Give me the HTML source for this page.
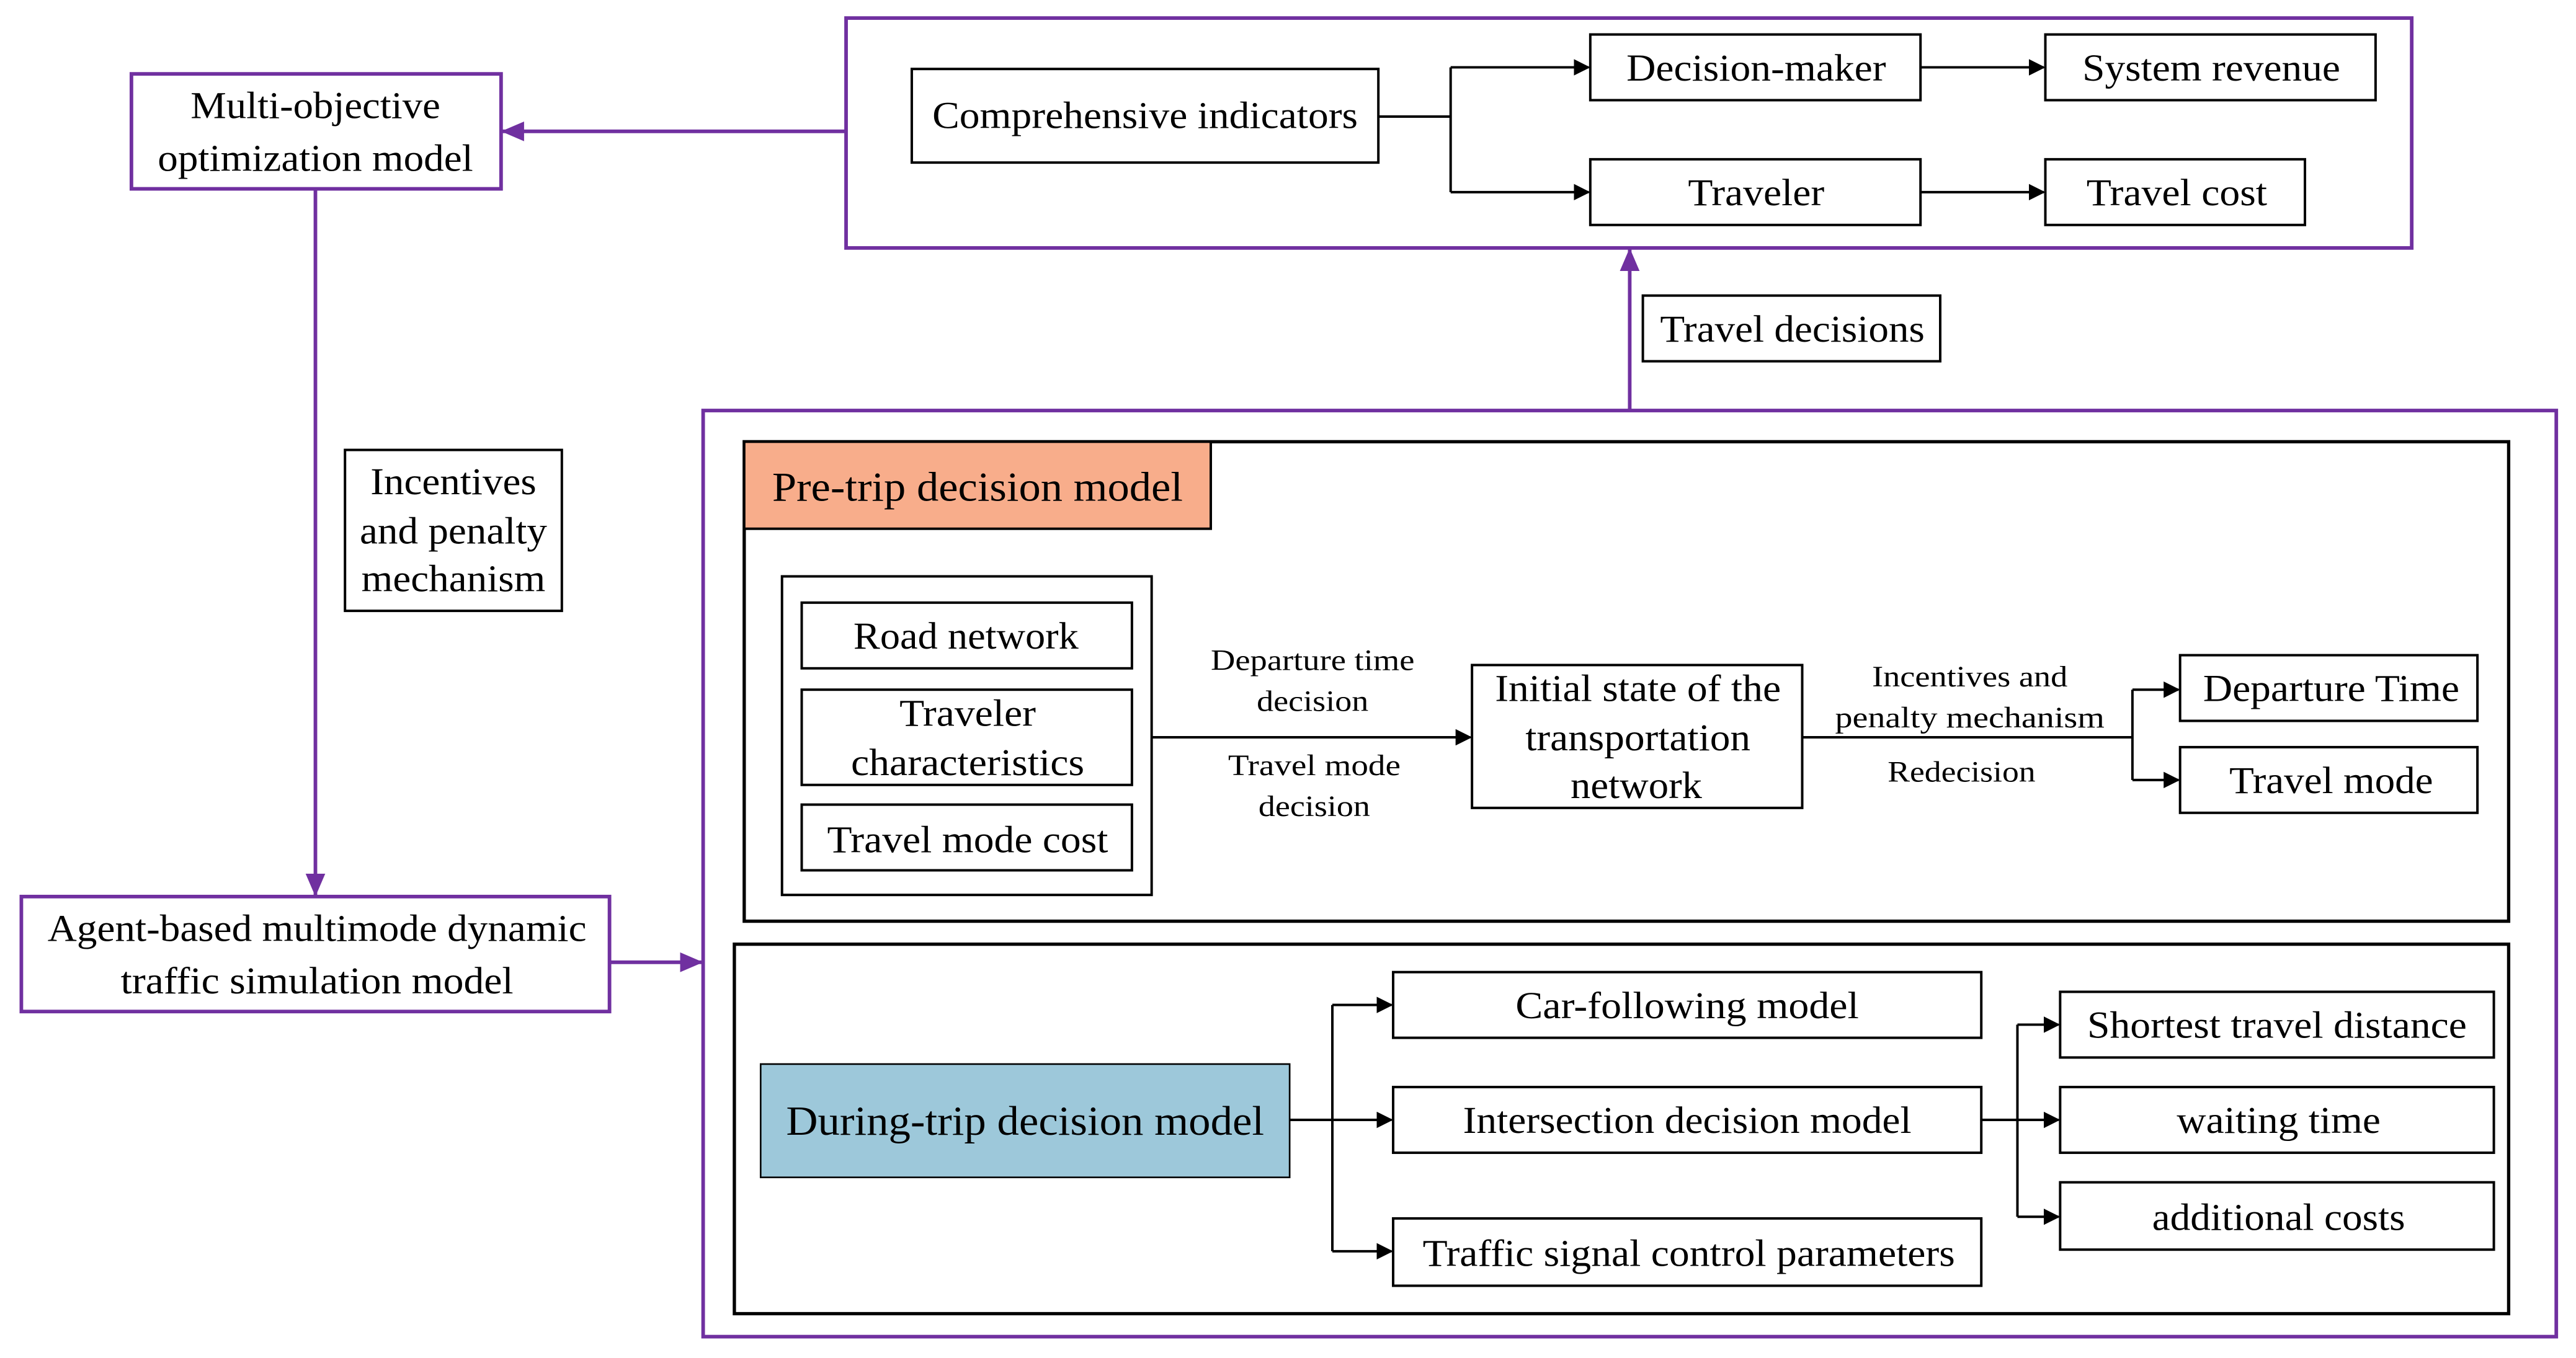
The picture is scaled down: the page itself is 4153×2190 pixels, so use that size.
<!DOCTYPE html>
<html><head><meta charset="utf-8"><style>
html,body{margin:0;padding:0;background:#fff;}
svg{display:block;}
text{font-family:"Liberation Serif",serif;fill:#000;text-anchor:middle;}
.m{font-size:23px;}
.s{font-size:18px;}
.h{font-size:25px;}
</style></head><body>
<svg width="4153" height="2190" viewBox="0 0 1568 827" preserveAspectRatio="none" xmlns="http://www.w3.org/2000/svg">
<defs>
<marker id="a" markerWidth="10" markerHeight="10" refX="9" refY="5" orient="auto" markerUnits="userSpaceOnUse"><path d="M0,0 L10,5 L0,10 Z" fill="#000"/></marker>
<marker id="p" markerWidth="14" markerHeight="14" refX="13" refY="7" orient="auto" markerUnits="userSpaceOnUse"><path d="M0,1 L14,7 L0,13 Z" fill="#7030A0"/></marker>
</defs>
<g fill="none" stroke="#7030A0" stroke-width="2.2">
<rect x="515" y="11" width="953" height="140"/>
<rect x="80" y="45" width="225" height="70"/>
<rect x="428" y="250" width="1128" height="564"/>
<rect x="13" y="546" width="358" height="70"/>
<line x1="515" y1="80" x2="306" y2="80" marker-end="url(#p)"/>
<line x1="192" y1="115" x2="192" y2="545" marker-end="url(#p)"/>
<line x1="371" y1="586" x2="427" y2="586" marker-end="url(#p)"/>
<line x1="992" y1="250" x2="992" y2="152" marker-end="url(#p)"/>
</g>
<g fill="none" stroke="#000" stroke-width="1.5">
<rect x="555" y="42" width="284" height="57"/>
<rect x="968" y="21" width="201" height="40"/>
<rect x="1245" y="21" width="201" height="40"/>
<rect x="968" y="97" width="201" height="40"/>
<rect x="1245" y="97" width="158" height="40"/>
<rect x="1000" y="180" width="181" height="40"/>
<rect x="210" y="274" width="132" height="98"/>
<rect x="453" y="269" width="1074" height="292" stroke-width="2"/>
<rect x="453" y="269" width="284" height="53" fill="#F8AD8B"/>
<rect x="476" y="351" width="225" height="194"/>
<rect x="488" y="367" width="201" height="40"/>
<rect x="488" y="420" width="201" height="58"/>
<rect x="488" y="490" width="201" height="40"/>
<rect x="896" y="405" width="201" height="87"/>
<rect x="1327" y="399" width="181" height="40"/>
<rect x="1327" y="455" width="181" height="40"/>
<rect x="447" y="575" width="1080" height="225" stroke-width="2"/>
<rect x="463" y="648" width="322" height="69" fill="#9DC8DA" stroke-width="1"/>
<rect x="848" y="592" width="358" height="40"/>
<rect x="848" y="662" width="358" height="40"/>
<rect x="848" y="742" width="358" height="41"/>
<rect x="1254" y="604" width="264" height="40"/>
<rect x="1254" y="662" width="264" height="40"/>
<rect x="1254" y="720" width="264" height="41"/>
<polyline points="839,71 883,71"/>
<polyline points="883,41 883,117"/>
<line x1="883" y1="41" x2="967" y2="41" marker-end="url(#a)"/>
<line x1="883" y1="117" x2="967" y2="117" marker-end="url(#a)"/>
<line x1="1169" y1="41" x2="1244" y2="41" marker-end="url(#a)"/>
<line x1="1169" y1="117" x2="1244" y2="117" marker-end="url(#a)"/>
<line x1="701" y1="449" x2="895" y2="449" marker-end="url(#a)"/>
<polyline points="1097,449 1298,449"/>
<polyline points="1298,420 1298,475"/>
<line x1="1298" y1="420" x2="1326" y2="420" marker-end="url(#a)"/>
<line x1="1298" y1="475" x2="1326" y2="475" marker-end="url(#a)"/>
<line x1="785" y1="682" x2="847" y2="682" marker-end="url(#a)"/>
<polyline points="811,612 811,762"/>
<line x1="811" y1="612" x2="847" y2="612" marker-end="url(#a)"/>
<line x1="811" y1="762" x2="847" y2="762" marker-end="url(#a)"/>
<line x1="1206" y1="682" x2="1253" y2="682" marker-end="url(#a)"/>
<polyline points="1228,624 1228,741"/>
<line x1="1228" y1="624" x2="1253" y2="624" marker-end="url(#a)"/>
<line x1="1228" y1="741" x2="1253" y2="741" marker-end="url(#a)"/>
</g>
<g class="m">
<text x="192" y="72" textLength="152" lengthAdjust="spacingAndGlyphs">Multi-objective</text>
<text x="192" y="104" textLength="192" lengthAdjust="spacingAndGlyphs">optimization model</text>
<text x="697" y="78" textLength="259" lengthAdjust="spacingAndGlyphs">Comprehensive indicators</text>
<text x="1069" y="49" textLength="158" lengthAdjust="spacingAndGlyphs">Decision-maker</text>
<text x="1346" y="49" textLength="157" lengthAdjust="spacingAndGlyphs">System revenue</text>
<text x="1069" y="125" textLength="83" lengthAdjust="spacingAndGlyphs">Traveler</text>
<text x="1325" y="125" textLength="110" lengthAdjust="spacingAndGlyphs">Travel cost</text>
<text x="1091" y="208" textLength="161" lengthAdjust="spacingAndGlyphs">Travel decisions</text>
<text x="276" y="301" textLength="101" lengthAdjust="spacingAndGlyphs">Incentives</text>
<text x="276" y="331" textLength="114" lengthAdjust="spacingAndGlyphs">and penalty</text>
<text x="276" y="360" textLength="112" lengthAdjust="spacingAndGlyphs">mechanism</text>
<text x="193" y="573" textLength="328" lengthAdjust="spacingAndGlyphs">Agent-based multimode dynamic</text>
<text x="193" y="605" textLength="239" lengthAdjust="spacingAndGlyphs">traffic simulation model</text>
<text class="h" x="595" y="305" textLength="250" lengthAdjust="spacingAndGlyphs">Pre-trip decision model</text>
<text x="588" y="395" textLength="137" lengthAdjust="spacingAndGlyphs">Road network</text>
<text x="589" y="442" textLength="83" lengthAdjust="spacingAndGlyphs">Traveler</text>
<text x="589" y="472" textLength="142" lengthAdjust="spacingAndGlyphs">characteristics</text>
<text x="589" y="519" textLength="171" lengthAdjust="spacingAndGlyphs">Travel mode cost</text>
<text x="997" y="427" textLength="174" lengthAdjust="spacingAndGlyphs">Initial state of the</text>
<text x="997" y="457" textLength="137" lengthAdjust="spacingAndGlyphs">transportation</text>
<text x="996" y="486" textLength="80" lengthAdjust="spacingAndGlyphs">network</text>
<text x="1419" y="427" textLength="156" lengthAdjust="spacingAndGlyphs">Departure Time</text>
<text x="1419" y="483" textLength="124" lengthAdjust="spacingAndGlyphs">Travel mode</text>
<text class="h" x="624" y="691" textLength="291" lengthAdjust="spacingAndGlyphs">During-trip decision model</text>
<text x="1027" y="620" textLength="209" lengthAdjust="spacingAndGlyphs">Car-following model</text>
<text x="1027" y="690" textLength="273" lengthAdjust="spacingAndGlyphs">Intersection decision model</text>
<text x="1028" y="771" textLength="324" lengthAdjust="spacingAndGlyphs">Traffic signal control parameters</text>
<text x="1386" y="632" textLength="231" lengthAdjust="spacingAndGlyphs">Shortest travel distance</text>
<text x="1387" y="690" textLength="124" lengthAdjust="spacingAndGlyphs">waiting time</text>
<text x="1387" y="749" textLength="154" lengthAdjust="spacingAndGlyphs">additional costs</text>
</g>
<g class="s">
<text x="799" y="408" textLength="124" lengthAdjust="spacingAndGlyphs">Departure time</text>
<text x="799" y="433" textLength="68" lengthAdjust="spacingAndGlyphs">decision</text>
<text x="800" y="472" textLength="105" lengthAdjust="spacingAndGlyphs">Travel mode</text>
<text x="800" y="497" textLength="68" lengthAdjust="spacingAndGlyphs">decision</text>
<text x="1199" y="418" textLength="119" lengthAdjust="spacingAndGlyphs">Incentives and</text>
<text x="1199" y="443" textLength="164" lengthAdjust="spacingAndGlyphs">penalty  mechanism</text>
<text x="1194" y="476" textLength="90" lengthAdjust="spacingAndGlyphs">Redecision</text>
</g>
</svg>
</body></html>
